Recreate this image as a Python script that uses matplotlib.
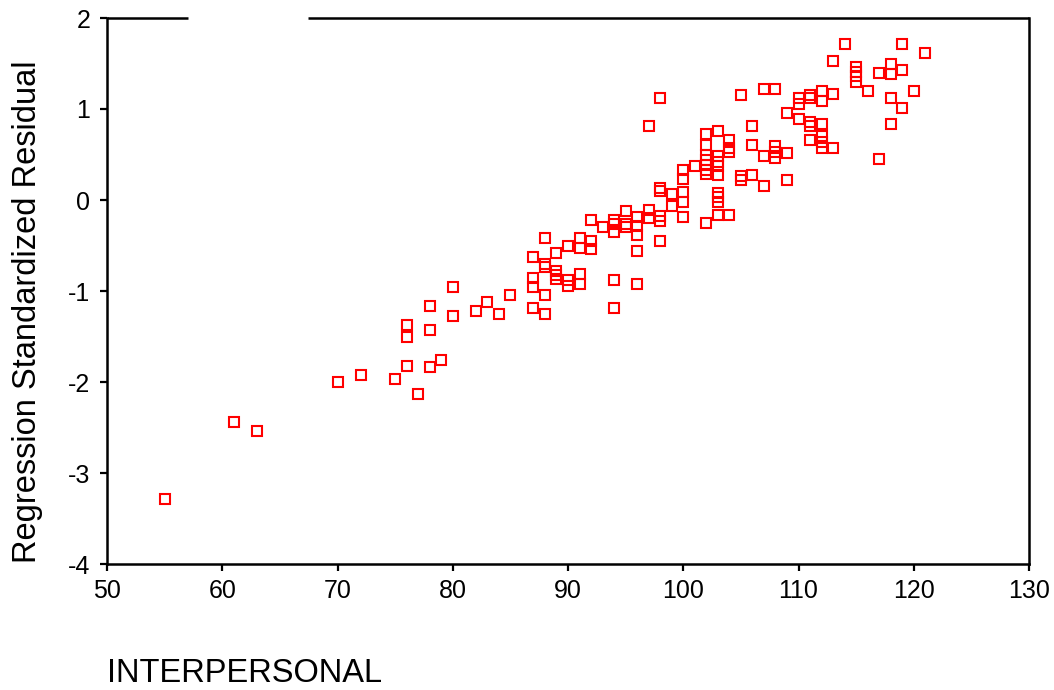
import matplotlib
matplotlib.use("Agg")
import matplotlib.pyplot as plt

# Данные: INTERPERSONAL и стандартизованный остаток
interpersonal = [
    55, 61, 63, 70, 72, 75, 76, 76, 76, 77, 78, 78, 78, 79, 80, 80, 82, 83, 84, 85,
    87, 87, 87, 87, 88, 88, 88, 88, 88, 89, 89, 89, 89, 90, 90, 90,
    91, 91, 91, 91, 92, 92, 92, 93, 94, 94, 94, 94, 94, 95, 95, 95,
    96, 96, 96, 96, 96, 97, 97, 97, 98, 98, 98, 98, 98, 98, 99, 99,
    100, 100, 100, 100, 100, 101, 102, 102, 102, 102, 102, 102, 102, 102,
    103, 103, 103, 103, 103, 103, 103, 103, 103, 104, 104, 104, 104,
    105, 105, 105, 106, 106, 106, 107, 107, 107, 108, 108, 108, 108,
    109, 109, 109, 110, 110, 110, 111, 111, 111, 111, 111,
    112, 112, 112, 112, 112, 112, 113, 113, 113, 114, 115, 115, 115, 115,
    116, 117, 117, 118, 118, 118, 118, 119, 119, 119, 120, 121,
]
residual = [
    -3.29, -2.44, -2.54, -2.00, -1.92, -1.97, -1.37, -1.51, -1.82, -2.13,
    -1.17, -1.43, -1.84, -1.76, -0.96, -1.27, -1.22, -1.12, -1.25, -1.04,
    -0.63, -0.86, -0.96, -1.19, -0.42, -0.70, -0.74, -1.04, -1.25,
    -0.58, -0.78, -0.82, -0.87, -0.50, -0.88, -0.95,
    -0.42, -0.53, -0.81, -0.92, -0.22, -0.45, -0.54, -0.30,
    -0.22, -0.26, -0.35, -0.88, -1.19, -0.12, -0.26, -0.30,
    -0.19, -0.29, -0.38, -0.56, -0.92, -0.11, -0.20, 0.81,
    -0.18, -0.23, -0.45, 0.10, 0.13, 1.12, 0.07, -0.07,
    0.33, 0.23, 0.09, -0.02, -0.19, 0.37,
    0.73, 0.60, 0.49, 0.44, 0.38, 0.33, 0.29, -0.25,
    0.76, 0.48, 0.42, 0.37, 0.27, 0.08, 0.03, -0.02, -0.16,
    0.66, 0.57, 0.53, -0.16,
    1.15, 0.26, 0.22, 0.81, 0.60, 0.27, 1.22, 0.48, 0.15,
    1.22, 0.59, 0.53, 0.46, 0.96, 0.52, 0.22, 1.12, 1.05, 0.89,
    1.15, 1.12, 0.86, 0.81, 0.66,
    1.20, 1.09, 0.84, 0.70, 0.64, 0.57, 1.53, 1.17, 0.57,
    1.71, 1.46, 1.41, 1.36, 1.30,
    1.20, 1.40, 0.45, 1.49, 1.39, 1.12, 0.84, 1.71, 1.43, 1.01, 1.20, 1.61,
]

x_ticks = [50, 60, 70, 80, 90, 100, 110, 120, 130]
y_ticks = [-4, -3, -2, -1, 0, 1, 2]

plt.rcParams['font.family'] = ['Liberation Sans', 'DejaVu Sans']
plt.rcParams['axes.unicode_minus'] = False  # обычный дефис вместо минуса

fig = plt.figure(figsize=(10.54, 6.9), dpi=100)
ax = fig.add_axes([107 / 1054, 1 - 564 / 690, 922 / 1054, 546 / 690])

# точки - пустые красные квадраты
ax.plot(interpersonal, residual, linestyle='none', marker='s', markersize=7,
        markerfacecolor='none', markeredgecolor='red', markeredgewidth=1.5)

ax.set_xlim(50, 130)
ax.set_ylim(-4, 2)
ax.set_xticks(x_ticks)
ax.set_yticks(y_ticks)
ax.tick_params(labelsize=18, length=5, width=1.6, direction='out', color='black')
ax.tick_params(axis='x', pad=6)
ax.tick_params(axis='y', pad=7)

for side in ['left', 'bottom', 'right']:
    ax.spines[side].set_linewidth(1.8)

# верхняя рамка с разрывом (как в исходнике)
ax.spines['top'].set_visible(False)
ax.plot([0, 81 / 922], [1, 1], transform=ax.transAxes, color='black', lw=1.8, clip_on=False, solid_capstyle='butt')
ax.plot([201 / 922, 1], [1, 1], transform=ax.transAxes, color='black', lw=1.8, clip_on=False, solid_capstyle='butt')

ax.set_ylabel('Regression Standardized Residual', fontsize=23.5, va='center')
ax.yaxis.set_label_coords(-0.0857, 0.4615)

fig.text(107 / 1054, 1 - 674 / 690, 'INTERPERSONAL', fontsize=23.5, ha='left', va='center')

fig.savefig('out.png', dpi=100)
